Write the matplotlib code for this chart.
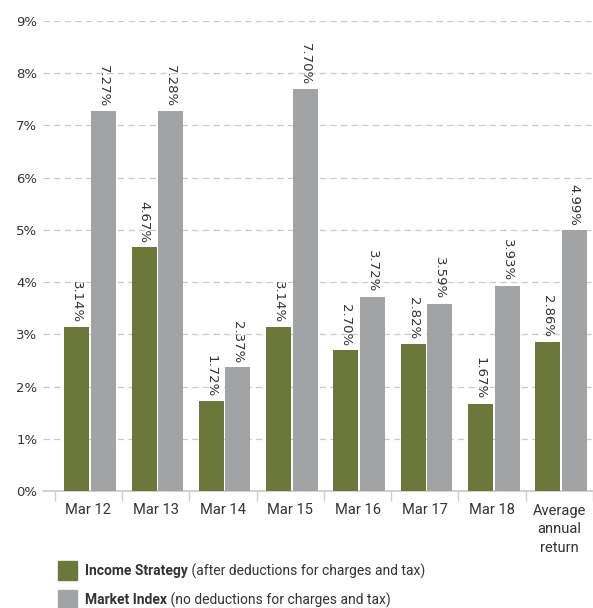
import matplotlib
matplotlib.use("Agg")
import matplotlib.pyplot as plt
from matplotlib.patches import Rectangle

categories = ["Mar 12", "Mar 13", "Mar 14", "Mar 15", "Mar 16", "Mar 17", "Mar 18",
              "Average\nannual\nreturn"]
income_strategy = [3.14, 4.67, 1.72, 3.14, 2.70, 2.82, 1.67, 2.86]
market_index = [7.27, 7.28, 2.37, 7.70, 3.72, 3.59, 3.93, 4.99]
y_ticks = [0, 1, 2, 3, 4, 5, 6, 7, 8, 9]
legend_bold = ["Income Strategy", "Market Index"]
legend_rest = [" (after deductions for charges and tax)", " (no deductions for charges and tax)"]

GREEN = "#6b7839"
GRAY = "#a2a3a5"
TXT = "#333333"
narrow = "Roboto"

W, H = 593, 608
fig = plt.figure(figsize=(W / 100, H / 100), dpi=100)
ax = fig.add_axes([43 / W, (H - 491) / H, (593 - 43) / W, (491 - 21) / H])

n = len(categories)
xs = list(range(n))
bw = 0.372
ax.bar([x - 0.172 for x in xs], income_strategy, width=bw, color=GREEN, zorder=3)
ax.bar([x + 0.222 for x in xs], market_index, width=bw, color=GRAY, zorder=3)

for x, v in zip(xs, income_strategy):
    ax.annotate(f"{v:.2f}%", (x - 0.172, v), xytext=(0, 3), textcoords="offset points",
                rotation=270, ha="center", va="bottom", fontsize=9.5, color=TXT,
                family="DejaVu Sans")
for x, v in zip(xs, market_index):
    ax.annotate(f"{v:.2f}%", (x + 0.222, v), xytext=(0, 3), textcoords="offset points",
                rotation=270, ha="center", va="bottom", fontsize=9.5, color=TXT,
                family="DejaVu Sans")

ax.set_xlim(-0.675, 7.365)
ax.set_ylim(0, 9)
ax.set_yticks(y_ticks)
ax.set_yticklabels([f"{t}%" for t in y_ticks], fontsize=9.5, color=TXT, family="DejaVu Sans")
ax.tick_params(axis="y", length=0, pad=4)

ax.set_xticks(xs)
ax.set_xticklabels(categories, fontsize=10.5, color=TXT, family=narrow, linespacing=1.45)
ax.set_xticks([x - 0.5 for x in xs] + [n - 0.5], minor=True)
ax.tick_params(axis="x", which="major", length=0, pad=9)
ax.tick_params(axis="x", which="minor", length=7, width=1, color="#cfcfcf")

ax.yaxis.grid(True, color="#c9c9c9", linestyle=(0, (5, 3.5)), linewidth=0.9, zorder=0)
ax.set_axisbelow(True)
for s in ["top", "right", "left"]:
    ax.spines[s].set_visible(False)
ax.spines["bottom"].set_color("#c9c9c9")
ax.spines["bottom"].set_linewidth(1.2)

# legend
renderer = fig.canvas.get_renderer()
sq_tops = [561, 590]
for top, col, b, r in zip(sq_tops, [GREEN, GRAY], legend_bold, legend_rest):
    fig.patches.append(Rectangle((57.5 / W, (H - top - 19) / H), 19 / W, 19 / H,
                                 transform=fig.transFigure, color=col))
    yc = (H - top - 10.5) / H
    t1 = fig.text(85 / W, yc, b, fontsize=10, fontweight="bold", color=TXT,
                  family=narrow, va="center", ha="left")
    bb = t1.get_window_extent(renderer)
    fig.text(bb.x1 / W, yc, r, fontsize=10, color=TXT, family=narrow,
             va="center", ha="left")

fig.savefig("out.png", dpi=100)
